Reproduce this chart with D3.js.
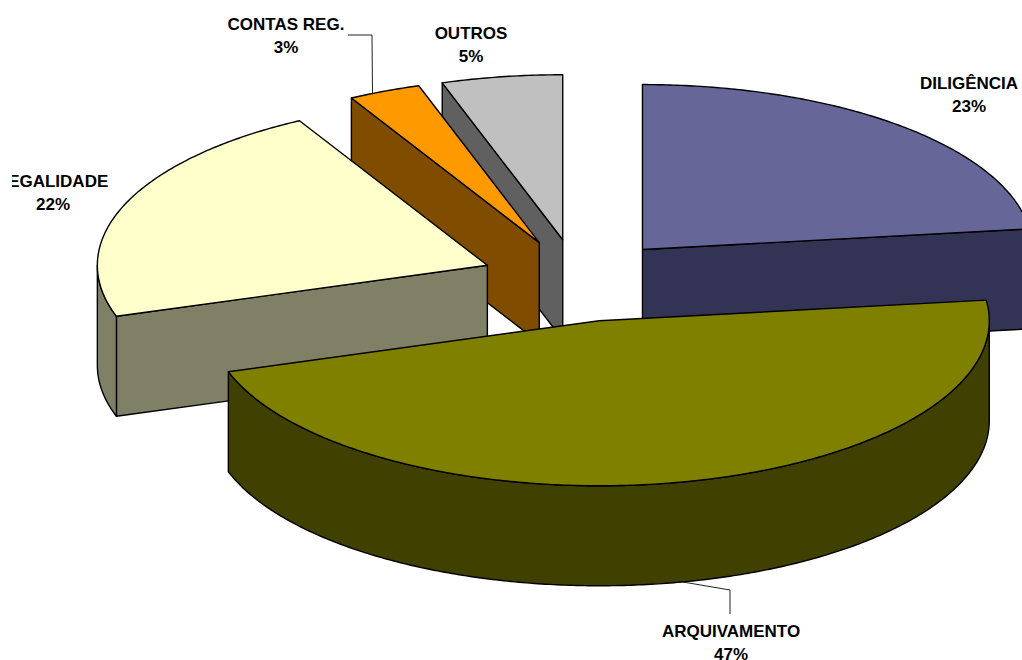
<!DOCTYPE html>
<html>
<head>
<meta charset="utf-8">
<script src="https://cdn.jsdelivr.net/npm/d3@7"></script>
<style>
  html, body { margin: 0; padding: 0; background: #fff; overflow: hidden; }
  svg { display: block; }
  text { font-family: "Liberation Sans", Arial, sans-serif; font-weight: bold; font-size: 17px; fill: #000; text-anchor: middle; }
</style>
</head>
<body>
<svg id="chart" width="1022" height="660"></svg>
<script>
// Distribution of outcomes, in percent, clockwise from twelve o'clock
const categories = ["DILIGÊNCIA", "ARQUIVAMENTO", "LEGALIDADE", "CONTAS REG.", "OUTROS"];
const shares = [23, 47, 22, 3, 5];
const topColors = ["#666699", "#808000", "#FFFFCC", "#FF9900", "#C0C0C0"];
const sideColors = ["#333355", "#404000", "#808066", "#804C00", "#606060"];
// Painting order, rear slices first
const paintOrder = [4, 3, 2, 0, 1];

// Tilted-disc projection
const cx = 578, cy = 280.5, rx = 390, ry = 165, depth = 100, explode = 0.25;

const svg = d3.select("#chart");
const scaleX = d3.scaleLinear().domain([-1, 1]).range([cx - rx, cx + rx]);
const scaleY = d3.scaleLinear().domain([-1, 1]).range([cy - ry, cy + ry]);

const slices = d3.pie().sort(null)(shares);

// Screen position of a point on the unit disc, for angle a and radius r, moved by the explosion offset
function project(mid, a, r, drop) {
  const ox = Math.sin(mid) * explode, oy = -Math.cos(mid) * explode;
  return [scaleX(ox + Math.sin(a) * r), scaleY(oy - Math.cos(a) * r) + (drop || 0)];
}

function arcPoints(mid, a0, a1, drop) {
  const n = Math.max(2, Math.ceil((a1 - a0) / 0.01));
  return d3.range(n + 1).map(i => project(mid, a0 + (a1 - a0) * i / n, 1, drop));
}

const line = d3.line();
const closed = pts => line(pts) + "Z";

const marks = svg.append("g");

paintOrder.forEach(i => {
  const s = slices[i];
  const mid = (s.startAngle + s.endAngle) / 2;
  const apex = project(mid, 0, 0);
  const apexLow = project(mid, 0, 0, depth);
  const g = marks.append("g").attr("stroke", "#000").attr("stroke-width", 1.4).attr("stroke-linejoin", "round");

  // Cut face, shown only where it hangs below the top surface
  const face = a => closed([apex, project(mid, a, 1), project(mid, a, 1, depth), apexLow]);
  if (Math.sin(s.startAngle) < -1e-6) g.append("path").attr("d", face(s.startAngle)).attr("fill", sideColors[i]);
  if (Math.sin(s.endAngle) > 1e-6) g.append("path").attr("d", face(s.endAngle)).attr("fill", sideColors[i]);

  // Outer rim on the front half of the disc
  const a0 = Math.max(s.startAngle, Math.PI / 2), a1 = Math.min(s.endAngle, Math.PI * 1.5);
  if (a1 > a0) {
    const upper = arcPoints(mid, a0, a1, 0);
    const lower = arcPoints(mid, a0, a1, depth).reverse();
    g.append("path").attr("d", closed(upper.concat(lower))).attr("fill", sideColors[i]);
  }

  // Top surface
  g.append("path")
    .attr("d", closed([apex].concat(arcPoints(mid, s.startAngle, s.endAngle, 0))))
    .attr("fill", topColors[i]);
});

// Leader lines for the two labels set away from their slices
const leaders = [
  [[348, 35], [372, 35], [372.5, 93]],
  [[683, 582], [730, 590], [730, 614]]
];
svg.append("g").selectAll("path").data(leaders).join("path")
  .attr("d", line).attr("fill", "none").attr("stroke", "#222").attr("stroke-width", 1);

// Labels; the plot area trims anything running past its left edge
svg.append("clipPath").attr("id", "plot-area").append("rect")
  .attr("x", 12).attr("y", 0).attr("width", 1010).attr("height", 660);

const labelAnchors = [[969, 89], [731, 637], [53, 187], [286, 30], [471, 39]];
const labels = svg.append("g").attr("clip-path", "url(#plot-area)");
categories.forEach((name, i) => {
  const [x, y] = labelAnchors[i];
  labels.append("text").attr("x", x).attr("y", y).text(name);
  labels.append("text").attr("x", x).attr("y", y + 22.5).text(shares[i] + "%");
});
</script>
</body>
</html>
